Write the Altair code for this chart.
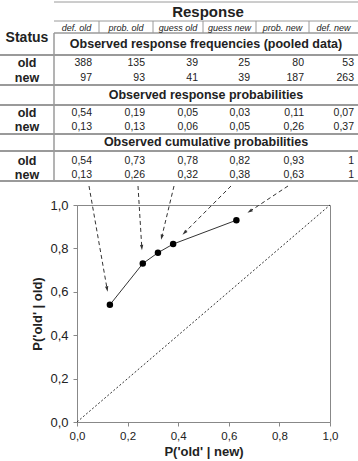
import math
import altair as alt
import pandas as pd

# ---------------- data ----------------
responses = ["def. old", "prob. old", "guess old", "guess new", "prob. new", "def. new"]
statuses = ["old", "new"]
freq_old = [388, 135, 39, 25, 80, 53]
freq_new = [97, 93, 41, 39, 187, 263]
prob_old = [0.54, 0.19, 0.05, 0.03, 0.11, 0.07]
prob_new = [0.13, 0.13, 0.06, 0.05, 0.26, 0.37]
cum_old = [0.54, 0.73, 0.78, 0.82, 0.93, 1]
cum_new = [0.13, 0.26, 0.32, 0.38, 0.63, 1]
section_titles = [
    "Observed response frequencies (pooled data)",
    "Observed response probabilities",
    "Observed cumulative probabilities",
]
header_title = "Response"
status_title = "Status"
x_title = "P('old' | new)"
y_title = "P('old' | old)"

# ---------------- layout (pixels) ----------------
W, H = 253, 217
PAD_L, PAD_T = 77, 205
FULL_W, FULL_H = 358, 461
col_bounds = [54, 99, 153, 203, 256, 309, 358]
num_right = [92, 145, 198, 250, 304, 354]
sec_top = [33, 85, 134]
sec_head_y = [44, 95, 142]
sec_line = [55, 105, 151]
row_y = [[63, 78], [113, 126.5], [161, 174.5]]
table_bottom = 181
label_cx = 27
table_cx = 206
arrow_start_px = [89, 138, 174, 231, 288]
arrow_start_py = 186
FONT = "Liberation Sans"
NARROW = "Liberation Sans Narrow, Arial Narrow, Liberation Sans"
INK = "#222222"
LINE = "#9a9a9a"

# table scales (pixel units, independent of the plot scales)
def TX(f):
    return alt.X(f"{f}:Q", scale=alt.Scale(domain=[0, FULL_W], range=[-PAD_L, FULL_W - PAD_L]), axis=None)

def TY(f):
    return alt.Y(f"{f}:Q", scale=alt.Scale(domain=[0, FULL_H], range=[-PAD_T, FULL_H - PAD_T]), axis=None)

def TX2(f):
    return alt.X2(f"{f}")

def TY2(f):
    return alt.Y2(f"{f}")

# ---------------- table lines ----------------
hrules = [(54, 358, 2, 1), (54, 358, 21, 1), (54, 358, 33, 1.5)]
for y in sec_line + sec_top[1:] + [table_bottom]:
    hrules.append((0, 358, y, 2))
h_df = pd.DataFrame(hrules, columns=["x", "x2", "y", "sw"])
vrules = [(54, 33, table_bottom, 1.5)] + [(b, 21, 33, 1) for b in col_bounds[1:-1]]
v_df = pd.DataFrame(vrules, columns=["x", "y", "y2", "sw"])

h_layer = alt.Chart(h_df).mark_rule(color=LINE).encode(
    x=TX("x"), x2=TX2("x2"), y=TY("y"), strokeWidth=alt.StrokeWidth("sw:Q", scale=None))
v_layer = alt.Chart(v_df).mark_rule(color=LINE).encode(
    x=TX("x"), y=TY("y"), y2=TY2("y2"), strokeWidth=alt.StrokeWidth("sw:Q", scale=None))

# ---------------- table texts ----------------
top_df = pd.DataFrame({"t": [header_title], "x": [(col_bounds[0] + col_bounds[-1]) / 2 + 2], "y": [12]})
top_layer = alt.Chart(top_df).mark_text(font=FONT, fontSize=15, fontWeight="bold", color=INK,
                                        baseline="middle").encode(x=TX("x"), y=TY("y"), text="t:N")
st_df = pd.DataFrame({"t": [status_title], "x": [label_cx], "y": [38]})
st_layer = alt.Chart(st_df).mark_text(font=FONT, fontSize=14, fontWeight="bold", color=INK,
                                      baseline="middle").encode(x=TX("x"), y=TY("y"), text="t:N")
sub_df = pd.DataFrame({"t": responses,
                       "x": [(col_bounds[i] + col_bounds[i + 1]) / 2 for i in range(6)],
                       "y": [27.5] * 6})
sub_layer = alt.Chart(sub_df).mark_text(font=FONT, fontSize=9, fontStyle="italic", color=INK,
                                        baseline="middle").encode(x=TX("x"), y=TY("y"), text="t:N")
sec_df = pd.DataFrame({"t": section_titles, "x": [table_cx] * 3, "y": sec_head_y})
sec_layer = alt.Chart(sec_df).mark_text(font=FONT, fontSize=12.5, fontWeight="bold", color=INK,
                                        baseline="middle").encode(x=TX("x"), y=TY("y"), text="t:N")
lab_rows = []
for s in range(3):
    for k, st in enumerate(statuses):
        lab_rows.append({"t": st, "x": label_cx, "y": row_y[s][k]})
lab_layer = alt.Chart(pd.DataFrame(lab_rows)).mark_text(
    font=FONT, fontSize=12.5, fontWeight="bold", color=INK, baseline="middle").encode(
    x=TX("x"), y=TY("y"), text="t:N")

def fmt(v, sec):
    if sec == 0:
        return str(int(v))
    if v == 1:
        return "1"
    return f"{v:.2f}".replace(".", ",")

sections = [(freq_old, freq_new), (prob_old, prob_new), (cum_old, cum_new)]
cells = []
for s, (vo, vn) in enumerate(sections):
    for k, vals in enumerate((vo, vn)):
        for c, v in enumerate(vals):
            cells.append({"t": fmt(v, s), "x": num_right[c], "y": row_y[s][k]})
val_layer = alt.Chart(pd.DataFrame(cells)).mark_text(
    font=NARROW, fontSize=10.5, color=INK, align="right", baseline="middle").encode(
    x=TX("x"), y=TY("y"), text="t:N")

# ---------------- ROC plot ----------------
DOM = alt.Scale(domain=[0, 1], nice=False, zero=False)

def RX(f, axis=None):
    return alt.X(f"{f}:Q", scale=DOM, axis=axis)

def RY(f, axis=None):
    return alt.Y(f"{f}:Q", scale=DOM, axis=axis)

roc_df = pd.DataFrame({"fa": cum_new[:-1], "hit": cum_old[:-1]})
diag_df = pd.DataFrame({"fa": [0, 1], "hit": [0, 1]})

def to_px(x, y):
    return PAD_L + W * x, PAD_T + H * (1 - y)

def to_data(px, py):
    return (px - PAD_L) / W, 1 - (py - PAD_T) / H

arrows = []
for i in range(5):
    px, py = to_px(cum_new[i], cum_old[i])
    sx, sy = arrow_start_px[i], arrow_start_py
    dx, dy = sx - px, sy - py
    d = math.hypot(dx, dy)
    ux, uy = dx / d, dy / d
    hx, hy = px + 16.0 * ux, py + 16.0 * uy
    ang = math.degrees(math.atan2(-ux, uy)) % 360
    x0, y0 = to_data(sx, sy)
    x1, y1 = to_data(hx, hy)
    arrows.append({"x0": x0, "y0": y0, "x1": x1, "y1": y1, "ang": ang})
arr_df = pd.DataFrame(arrows)

diag = alt.Chart(diag_df).mark_line(color="#333333", strokeWidth=1, strokeDash=[2, 2]).encode(
    x=RX("fa"), y=RY("hit"))
roc_line = alt.Chart(roc_df).mark_line(color="#333333", strokeWidth=1).encode(
    x=RX("fa"), y=RY("hit"))
arr_line = alt.Chart(arr_df).mark_rule(color="#333333", strokeWidth=1, strokeDash=[4, 3]).encode(
    x=RX("x0"), y=RY("y0"), x2=alt.X2("x1"), y2=alt.Y2("y1"))
arr_head = alt.Chart(arr_df).mark_point(
    shape="M0,-1L0.6,1L-0.6,1Z", filled=True, color="#333333", opacity=1, size=30).encode(
    x=RX("x1"), y=RY("y1"), angle=alt.Angle("ang:Q", scale=None))

lab_expr = "replace(format(datum.value, '.1f'), '.', ',')"
ticks = [0, 0.2, 0.4, 0.6, 0.8, 1.0]
x_axis = alt.Axis(values=ticks, labelExpr=lab_expr, title=x_title, grid=False, labelFlush=False,
                  domainColor="#888888", tickColor="#888888", tickSize=4,
                  labelFont=FONT, labelFontSize=11.5, labelColor=INK, labelPadding=4,
                  titleFont=FONT, titleFontSize=13, titleFontWeight="bold", titleColor=INK,
                  titlePadding=4)
y_axis = alt.Axis(values=ticks, labelExpr=lab_expr, title=y_title, grid=False, labelFlush=False,
                  domainColor="#888888", tickColor="#888888", tickSize=4,
                  labelFont=FONT, labelFontSize=13, labelColor=INK, labelPadding=5,
                  titleFont=FONT, titleFontSize=13, titleFontWeight="bold", titleColor=INK,
                  titlePadding=5)
points = alt.Chart(roc_df).mark_circle(color="black", opacity=1, size=42).encode(
    x=RX("fa", x_axis), y=RY("hit", y_axis))

chart = alt.layer(
    h_layer, v_layer, top_layer, st_layer, sub_layer, sec_layer, lab_layer, val_layer,
    diag, roc_line, arr_line, arr_head, points
).resolve_scale(x="independent", y="independent").properties(
    width=W, height=H,
    padding={"left": PAD_L, "top": PAD_T, "right": FULL_W - PAD_L - W, "bottom": FULL_H - PAD_T - H},
    autosize=alt.AutoSizeParams(type="none"),
    background="white",
).configure_view(stroke="#888888", strokeWidth=1)

chart.save("out.html", embed_options={"renderer": "svg", "actions": False})
